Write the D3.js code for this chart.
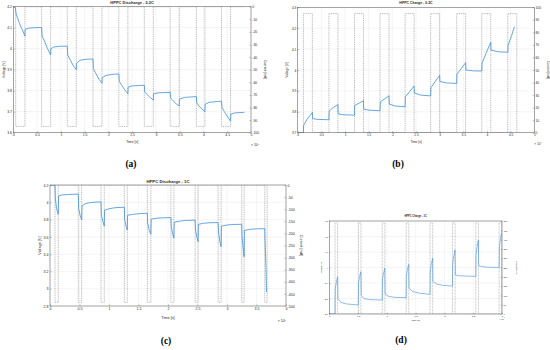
<!DOCTYPE html>
<html><head><meta charset="utf-8">
<script src="https://cdn.jsdelivr.net/npm/d3@7"></script>
<style>
body{margin:0;background:#fff}
svg{display:block}
text{font-family:Arial,"Liberation Sans",Helvetica,sans-serif;fill:#262626}
.cap{font-family:"Liberation Serif","DejaVu Serif",serif;font-weight:bold;fill:#000}
</style>
</head><body>
<svg id="chart" width="550" height="350"></svg>
<script>
// ---------- DATA (time in 1e4 s) ----------
// (a) HPPC Discharge - 0.2C
const timeA = [0,0.04,0.06,0.13,0.19,0.245, 0.25,0.32,0.45,0.596,
  0.605,0.65,0.72,0.785, 0.79,0.85,1.0,1.136,
  1.145,1.19,1.26,1.325, 1.33,1.40,1.55,1.676,
  1.685,1.73,1.80,1.865, 1.87,1.95,2.10,2.22,
  2.23,2.27,2.34,2.41, 2.415,2.50,2.756,
  2.765,2.81,2.88,2.945, 2.95,3.05,3.30,
  3.31,3.36,3.43,3.49, 3.495,3.60,3.85,
  3.86,3.90,3.97,4.03, 4.035,4.12,4.38,
  4.39,4.44,4.51,4.57, 4.575,4.65,4.86];
const voltA = [4.2,4.198,4.165,4.12,4.09,4.06, 4.092,4.098,4.10,4.101,
  4.06,4.04,4.0,3.97, 4.0,4.008,4.012,4.012,
  3.97,3.95,3.92,3.90, 3.93,3.945,3.95,3.951,
  3.905,3.885,3.855,3.835, 3.862,3.873,3.878,3.88,
  3.845,3.83,3.805,3.785, 3.817,3.823,3.826,
  3.795,3.783,3.767,3.755, 3.785,3.79,3.792,
  3.765,3.752,3.737,3.727, 3.76,3.768,3.772,
  3.742,3.728,3.712,3.70, 3.735,3.745,3.75,
  3.72,3.70,3.675,3.655, 3.688,3.694,3.697];
const pulseStartA = [0.05,0.596,1.136,1.676,2.22,2.756,3.30,3.85,4.38];
const pulseEndA   = [0.245,0.785,1.325,1.865,2.41,2.945,3.49,4.03,4.57];
const pulseCurrentA = -95;
const endTimeA = 4.86;

// (b) HPPC Charge - 0.2C
const timeB = [0,0.12,0.125,0.2,0.31, 0.315,0.4,0.66,
  0.665,0.75,0.85, 0.855,0.95,1.2,
  1.205,1.3,1.39, 1.395,1.5,1.74,
  1.745,1.84,1.93, 1.935,2.05,2.27,
  2.275,2.37,2.46, 2.465,2.6,2.81,
  2.815,2.91,3.0, 3.005,3.15,3.36,
  3.365,3.46,3.55, 3.555,3.7,3.89,
  3.895,3.99,4.08, 4.085,4.25,4.44,
  4.445,4.52,4.58];
const voltB = [3.70,3.70,3.735,3.765,3.797, 3.768,3.764,3.762,
  3.804,3.82,3.835, 3.79,3.786,3.784,
  3.83,3.842,3.853, 3.813,3.808,3.805,
  3.847,3.862,3.877, 3.837,3.828,3.824,
  3.872,3.898,3.923, 3.89,3.88,3.876,
  3.915,3.946,3.975, 3.945,3.938,3.936,
  3.98,4.008,4.035, 4.0,3.996,3.995,
  4.032,4.085,4.133, 4.095,4.087,4.085,
  4.118,4.165,4.207];
const pulseStartB = [0.12,0.66,1.20,1.74,2.27,2.81,3.36,3.89,4.44];
const pulseEndB   = [0.31,0.85,1.39,1.93,2.46,3.0,3.55,4.08,4.63];
const pulseCurrentB = 95;
const endTimeB = 4.63;

// (c) HPPC Discharge - 1C
const timeC = [0,0.085,0.09,0.11,0.14, 0.145,0.2,0.3,0.48,
  0.485,0.51,0.537, 0.542,0.6,0.7,0.865,
  0.87,0.895,0.92, 0.925,1.0,1.1,1.26,
  1.265,1.29,1.31, 1.315,1.4,1.5,1.65,
  1.655,1.685,1.71, 1.715,1.8,1.9,2.05,
  2.055,2.08,2.1, 2.105,2.2,2.3,2.46,
  2.465,2.49,2.51, 2.515,2.6,2.7,2.85,
  2.855,2.88,2.9, 2.905,3.0,3.1,3.25,
  3.255,3.275,3.29, 3.295,3.4,3.5,3.64,
  3.645,3.66,3.67];
const voltC = [4.2,4.2,4.05,3.93,3.86, 4.075,4.085,4.09,4.095,
  3.93,3.85,3.795, 3.96,3.985,3.998,4.005,
  3.86,3.78,3.725, 3.91,3.925,3.937,3.943,
  3.80,3.72,3.68, 3.85,3.86,3.868,3.873,
  3.76,3.67,3.63, 3.805,3.815,3.82,3.823,
  3.72,3.63,3.585, 3.77,3.782,3.79,3.793,
  3.69,3.59,3.545, 3.745,3.757,3.763,3.765,
  3.66,3.54,3.486, 3.725,3.737,3.743,3.745,
  3.60,3.46,3.37, 3.675,3.688,3.693,3.695,
  3.55,3.25,2.96];
const pulseStartC = [0.085,0.48,0.865,1.26,1.65,2.05,2.46,2.85,3.25,3.64];
const pulseEndC   = [0.14,0.537,0.92,1.31,1.71,2.10,2.51,2.90,3.29,3.68];
const pulseCurrentC = -485;
const endTimeC = 3.68;

// (d) HPPC Charge - 1C
const timeD = [0,0.10,0.103,0.12,0.145, 0.15,0.2,0.3,0.505,
  0.508,0.525,0.55, 0.555,0.6,0.7,0.92,
  0.923,0.94,0.965, 0.97,1.02,1.12,1.335,
  1.338,1.355,1.38, 1.385,1.45,1.55,1.75,
  1.753,1.77,1.795, 1.80,1.87,1.97,2.14,
  2.143,2.16,2.185, 2.19,2.25,2.35,2.545,
  2.548,2.565,2.59, 2.595,2.66,2.76,2.95,
  2.953,2.97,2.99];
const voltD = [3.70,3.70,3.86,3.90,3.94, 3.80,3.775,3.765,3.758,
  3.90,3.94,3.973, 3.82,3.80,3.793,3.79,
  3.92,3.96,3.995, 3.83,3.815,3.808,3.805,
  3.94,3.985,4.02, 3.866,3.845,3.835,3.827,
  3.97,4.02,4.06, 3.91,3.893,3.885,3.88,
  4.02,4.07,4.113, 3.952,3.947,3.945,3.943,
  4.08,4.13,4.177, 4.012,4.005,4.002,4.0,
  4.12,4.18,4.22];
const pulseStartD = [0.10,0.505,0.92,1.335,1.75,2.14,2.545,2.95];
const pulseEndD   = [0.145,0.55,0.965,1.38,1.795,2.185,2.59,2.995];
const pulseCurrentD = 490;
const endTimeD = 3.0;

// tick values
const xTicks5 = [0,0.5,1,1.5,2,2.5,3,3.5,4,4.5,5];
const xTicks4 = [0,0.5,1,1.5,2,2.5,3,3.5,4];
const xTicks3 = [0,0.5,1,1.5,2,2.5,3];
const vTicksA = [3.6,3.7,3.8,3.9,4,4.1,4.2];
const vTicksB = [3.7,3.8,3.9,4,4.1,4.2,4.3];
const vTicksC = [2.8,3,3.2,3.4,3.6,3.8,4,4.2];
const vTicksD = [3.7,3.8,3.9,4,4.1,4.2,4.3];
const iTicksA = [0,-10,-20,-30,-40,-50,-60,-70,-80,-90,-100];
const iTicksB = [0,10,20,30,40,50,60,70,80,90,100];
const iTicksC = [0,-50,-100,-150,-200,-250,-300,-350,-400,-450,-500];
const iTicksD = [0,50,100,150,200,250,300,350,400,450,500];

const titles = ["HPPC Discharge - 0.2C","HPPC Charge - 0.2C","HPPC Discharge - 1C","HPPC Charge - 1C"];
const captions = ["(a)","(b)","(c)","(d)"];

// ---------- DRAW ----------
const svg = d3.select("#chart");
const fmt = d => String(+(+d).toFixed(2));

function currentSeries(starts, ends, level, tEnd){
  const pts=[[0,0]];
  starts.forEach((s,i)=>{pts.push([s,0],[s,level],[ends[i],level],[ends[i],0]);});
  pts.push([tEnd,0]);
  return pts;
}

function panel(o){
  const g = svg.append("g");
  const x = d3.scaleLinear().domain(o.xd).range([o.x0,o.x1]);
  const y = d3.scaleLinear().domain(o.yd).range([o.y1,o.y0]);
  const y2 = d3.scaleLinear().domain(o.y2d).range([o.y1,o.y0]);
  const id = "clip"+o.k;
  svg.append("clipPath").attr("id",id).append("rect")
    .attr("x",o.x0).attr("y",o.y0).attr("width",o.x1-o.x0).attr("height",o.y1-o.y0);
  // grid
  g.append("g").selectAll("line").data(o.xt).join("line")
    .attr("x1",d=>x(d)).attr("x2",d=>x(d)).attr("y1",o.y0).attr("y2",o.y1)
    .attr("stroke","#e6e6e6").attr("stroke-width",0.4);
  g.append("g").selectAll("line").data(o.yt).join("line")
    .attr("y1",d=>y(d)).attr("y2",d=>y(d)).attr("x1",o.x0).attr("x2",o.x1)
    .attr("stroke","#e6e6e6").attr("stroke-width",0.4);
  // current (dotted)
  const cur = currentSeries(o.ps,o.pe,o.pc,o.te);
  g.append("path").attr("clip-path",`url(#${id})`)
    .attr("d",d3.line().x(d=>x(d[0])).y(d=>y2(d[1]))(cur))
    .attr("fill","none").attr("stroke","#7a7a7a").attr("stroke-width",o.cw)
    .attr("stroke-dasharray",o.dash);
  // voltage
  g.append("path").attr("clip-path",`url(#${id})`)
    .attr("d",d3.line().x((d,i)=>x(o.t[i])).y(d=>y(d))(o.v))
    .attr("fill","none").attr("stroke","#4190d8").attr("stroke-width",o.lw)
    .attr("stroke-linejoin","round");
  // box
  g.append("rect").attr("x",o.x0).attr("y",o.y0).attr("width",o.x1-o.x0).attr("height",o.y1-o.y0)
    .attr("fill","none").attr("stroke","#555").attr("stroke-width",0.5);
  const tl = o.tl;
  const ax = g.append("g").attr("transform",`translate(0,${o.y1})`)
    .call(d3.axisBottom(x).tickValues(o.xt).tickFormat(fmt).tickSizeInner(-tl).tickSizeOuter(0).tickPadding(o.xpad));
  const ay = g.append("g").attr("transform",`translate(${o.x0},0)`)
    .call(d3.axisLeft(y).tickValues(o.yt).tickFormat(fmt).tickSizeInner(-tl).tickSizeOuter(0).tickPadding(o.ypad));
  const ay2 = g.append("g").attr("transform",`translate(${o.x1},0)`)
    .call(d3.axisRight(y2).tickValues(o.y2t).tickFormat(fmt).tickSizeInner(-tl).tickSizeOuter(0).tickPadding(o.ypad));
  [ax,ay,ay2].forEach(a=>{
    a.select(".domain").remove();
    a.selectAll("line").attr("stroke","#555").attr("stroke-width",0.4);
    a.selectAll("text").attr("font-size",o.fsT).attr("fill","#262626").attr("font-family",null);
  });
  g.append("text").attr("x",(o.x0+o.x1)/2).attr("y",o.titleY).attr("text-anchor","middle")
    .attr("dominant-baseline","middle").attr("font-weight","bold").attr("font-size",o.fsTitle).text(o.title);
  g.append("text").attr("x",(o.x0+o.x1)/2).attr("y",o.xlabY).attr("text-anchor","middle")
    .attr("dominant-baseline","middle").attr("font-size",o.fsL).text("Time [s]");
  g.append("text").attr("transform",`translate(${o.ylabX},${(o.y0+o.y1)/2}) rotate(-90)`)
    .attr("text-anchor","middle").attr("dominant-baseline","middle").attr("font-size",o.fsL).text("Voltage [V]");
  g.append("text").attr("transform",`translate(${o.y2labX},${(o.y0+o.y1)/2}) rotate(90)`)
    .attr("text-anchor","middle").attr("dominant-baseline","middle").attr("font-size",o.fsL).text("Current [mA]");
  const e = g.append("text").attr("x",o.expX).attr("y",o.expY).attr("text-anchor","middle")
    .attr("dominant-baseline","middle").attr("font-size",o.fsT);
  e.append("tspan").text("\u00d7 10");
  e.append("tspan").attr("dy",-o.fsT*0.4).attr("font-size",o.fsT*0.7).text("4");
  svg.append("text").attr("class","cap").attr("x",o.capX).attr("y",o.capY).attr("text-anchor","middle")
    .attr("dominant-baseline","middle").attr("font-size",9.5).text(o.cap);
}

panel({k:"a",x0:13.3,x1:251,y0:6.7,y1:132.7,xd:[0,5],yd:[3.6,4.2],y2d:[-100,0],
  xt:xTicks5,yt:vTicksA,y2t:iTicksA,t:timeA,v:voltA,ps:pulseStartA,pe:pulseEndA,pc:pulseCurrentA,te:endTimeA,
  title:titles[0],titleY:3.4,xlabY:142,ylabX:4,y2labX:264.5,expX:255,expY:145,
  fsTitle:4,fsT:3.4,fsL:3.4,tl:1.5,xpad:1.2,ypad:1.3,lw:0.8,cw:0.55,dash:"1,0.8",cap:captions[0],capX:131,capY:165});
panel({k:"b",x0:297.7,x1:534.3,y0:7.3,y1:132.7,xd:[0,5],yd:[3.7,4.3],y2d:[0,100],
  xt:xTicks5,yt:vTicksB,y2t:iTicksB,t:timeB,v:voltB,ps:pulseStartB,pe:pulseEndB,pc:pulseCurrentB,te:endTimeB,
  title:titles[1],titleY:3.4,xlabY:142,ylabX:287,y2labX:547.5,expX:538,expY:143.5,
  fsTitle:3.5,fsT:3.2,fsL:3.2,tl:1.5,xpad:1.2,ypad:1.3,lw:0.8,cw:0.55,dash:"1,0.8",cap:captions[1],capX:398,capY:165});
panel({k:"c",x0:50,x1:286,y0:185,y1:306,xd:[0,4],yd:[2.8,4.2],y2d:[-500,0],
  xt:xTicks4,yt:vTicksC,y2t:iTicksC,t:timeC,v:voltC,ps:pulseStartC,pe:pulseEndC,pc:pulseCurrentC,te:endTimeC,
  title:titles[2],titleY:181.5,xlabY:318,ylabX:40,y2labX:300.5,expX:282,expY:321,
  fsTitle:4.3,fsT:3.6,fsL:3.8,tl:1.5,xpad:1.5,ypad:1.6,lw:0.8,cw:0.55,dash:"1,0.8",cap:captions[2],capX:166,capY:341.5});
panel({k:"d",x0:329.3,x1:502,y0:221,y1:314,xd:[0,3],yd:[3.7,4.3],y2d:[0,500],
  xt:xTicks3,yt:vTicksD,y2t:iTicksD,t:timeD,v:voltD,ps:pulseStartD,pe:pulseEndD,pc:pulseCurrentD,te:endTimeD,
  title:titles[3],titleY:216,xlabY:320,ylabX:321,y2labX:516.5,expX:502,expY:318.5,
  fsTitle:2.6,fsT:2.3,fsL:2.4,tl:1.2,xpad:1,ypad:1.4,lw:0.6,cw:0.5,dash:"0.8,0.7",cap:captions[3],capX:401,capY:341});
</script>
</body></html>
